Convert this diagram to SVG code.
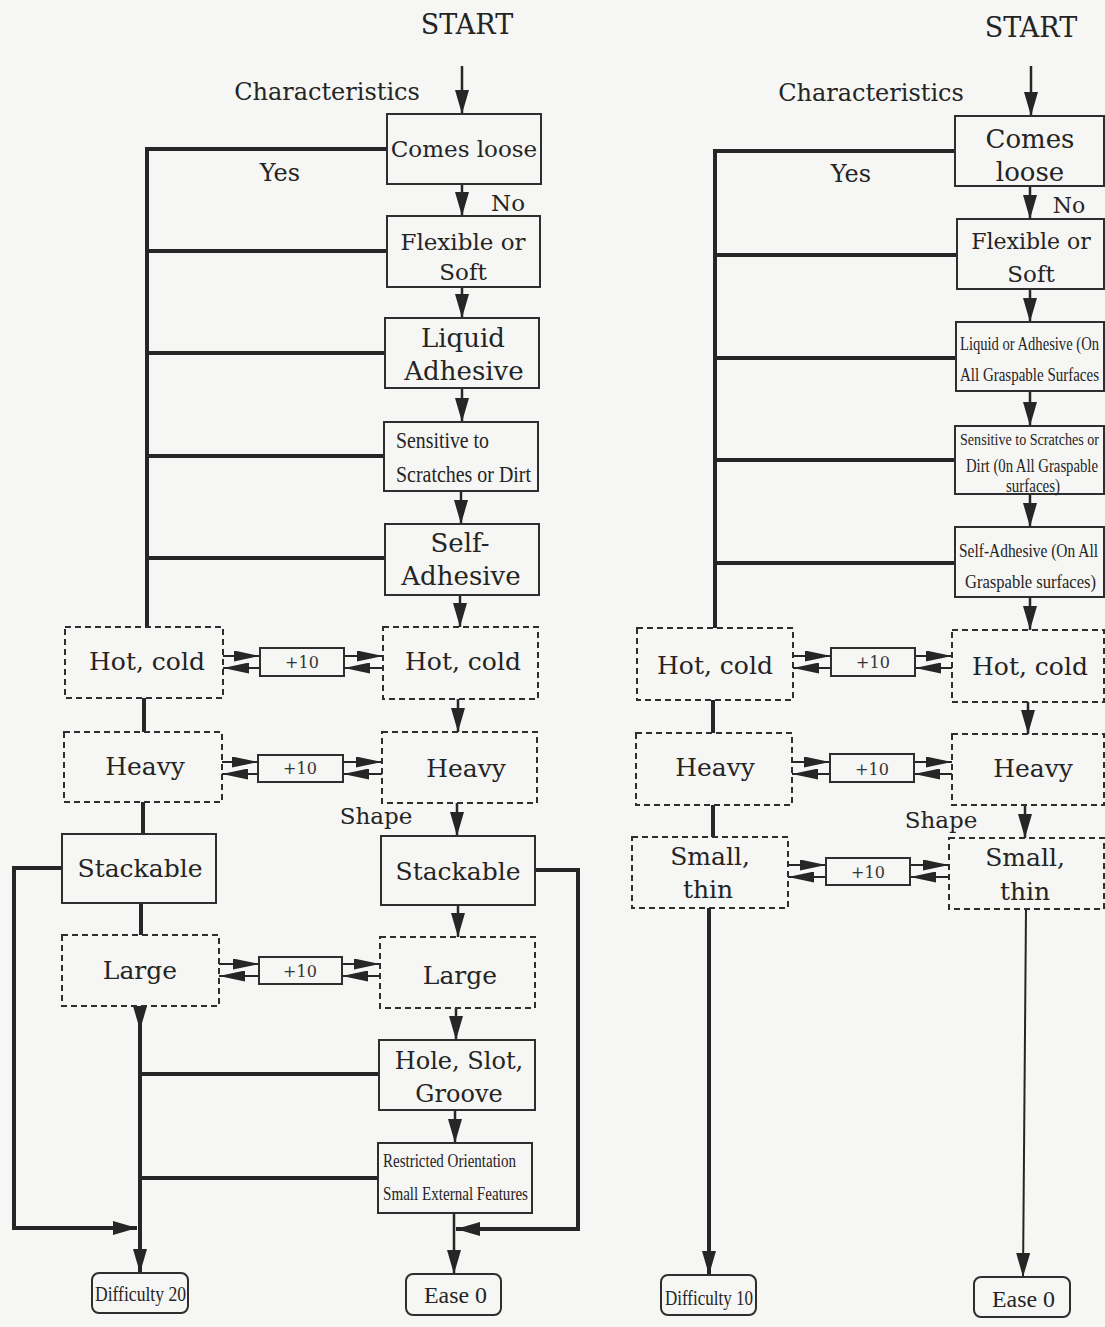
<svg xmlns="http://www.w3.org/2000/svg" width="1105" height="1327" viewBox="0 0 1105 1327">
<defs>
<marker id="ah" markerUnits="userSpaceOnUse" viewBox="0 0 24 14" markerWidth="24" markerHeight="14" refX="24" refY="7" orient="auto"><path d="M0,0 L24,7 L0,14 z" fill="#262626"/></marker>
<marker id="ah2" markerUnits="userSpaceOnUse" viewBox="0 0 26 11" markerWidth="26" markerHeight="11" refX="26" refY="5.5" orient="auto"><path d="M0,0 L26,5.5 L0,11 z" fill="#262626"/></marker>
</defs>
<style>
.box{fill:none;stroke:#2e2e2e;stroke-width:2}
.dash{fill:none;stroke:#2e2e2e;stroke-width:2;stroke-dasharray:6 4}
.t{font-family:"DejaVu Serif","Liberation Serif",serif;fill:#242424;text-anchor:middle}
.c{font-family:"Liberation Serif","DejaVu Serif",serif;fill:#242424}
.thick{fill:none;stroke:#262626;stroke-width:4}
.arr{fill:none;stroke:#262626;stroke-width:2.5;marker-end:url(#ah)}
.thickarr{fill:none;stroke:#262626;stroke-width:4;marker-end:url(#ah)}
.dbl{fill:none;stroke:#262626;stroke-width:2;marker-end:url(#ah2)}
.p10{font-family:"DejaVu Serif",serif;fill:#333;text-anchor:middle;font-size:16px}
</style>
<rect width="1105" height="1327" fill="#f6f6f4"/>

<g id="labels">
<text class="t" x="467" y="34" font-size="27">START</text>
<text class="t" x="327" y="100" font-size="24">Characteristics</text>
<text class="t" x="280" y="181" font-size="24">Yes</text>
<text class="t" x="508" y="211" font-size="23">No</text>
<text class="t" x="376" y="824" font-size="23">Shape</text>
<text class="t" x="1031" y="37" font-size="27">START</text>
<text class="t" x="871" y="101" font-size="24">Characteristics</text>
<text class="t" x="851" y="182" font-size="24">Yes</text>
<text class="t" x="1069" y="213" font-size="22" text-anchor="start">No</text>
<text class="t" x="941" y="828" font-size="23">Shape</text>
</g>

<g id="connectors">
<line class="arr" x1="462" y1="66" x2="462" y2="114"/>
<line class="arr" x1="462" y1="184" x2="462" y2="216"/>
<line class="arr" x1="462" y1="287" x2="462" y2="318"/>
<line class="arr" x1="462" y1="388" x2="462" y2="422"/>
<line class="arr" x1="461" y1="491" x2="461" y2="524"/>
<line class="arr" x1="460" y1="595" x2="460" y2="627"/>
<line class="arr" x1="458" y1="699" x2="458" y2="732"/>
<line class="arr" x1="457" y1="803" x2="457" y2="836"/>
<line class="arr" x1="458" y1="905" x2="458" y2="937"/>
<line class="arr" x1="456" y1="1008" x2="456" y2="1040"/>
<line class="arr" x1="455" y1="1110" x2="455" y2="1143"/>
<line class="arr" x1="454" y1="1213" x2="454" y2="1274"/>
<path class="thick" d="M387,149 H147 V627 M387,251 H147 M385,353 H147 M384,456 H147 M385,558 H147"/>
<path class="thick" d="M144,698 V732 M143,802 V834 M141,903 V935"/>
<path class="thickarr" d="M140,1006 V1030"/>
<path class="thickarr" d="M140,1028 V1273"/>
<path class="thick" d="M379,1074 H140 M378,1178 H140"/>
<path class="thickarr" d="M62,868 H14 V1228 H137"/>
<path class="thickarr" d="M535,870 H578 V1229 H456"/>
<line class="dbl" x1="223" y1="656" x2="260" y2="656"/>
<line class="dbl" x1="260" y1="668" x2="223" y2="668"/>
<line class="dbl" x1="344" y1="656" x2="383" y2="656"/>
<line class="dbl" x1="383" y1="668" x2="344" y2="668"/>
<line class="dbl" x1="222" y1="762" x2="258" y2="762"/>
<line class="dbl" x1="258" y1="774" x2="222" y2="774"/>
<line class="dbl" x1="343" y1="762" x2="382" y2="762"/>
<line class="dbl" x1="382" y1="774" x2="343" y2="774"/>
<line class="dbl" x1="219" y1="964" x2="259" y2="964"/>
<line class="dbl" x1="259" y1="976" x2="219" y2="976"/>
<line class="dbl" x1="342" y1="964" x2="380" y2="964"/>
<line class="dbl" x1="380" y1="976" x2="342" y2="976"/>

<line class="arr" x1="1031" y1="66" x2="1031" y2="116"/>
<line class="arr" x1="1030" y1="186" x2="1030" y2="219"/>
<line class="arr" x1="1030" y1="289" x2="1030" y2="322"/>
<line class="arr" x1="1030" y1="391" x2="1030" y2="426"/>
<line class="arr" x1="1030" y1="494" x2="1030" y2="527"/>
<line class="arr" x1="1030" y1="597" x2="1030" y2="630"/>
<line class="arr" x1="1028" y1="702" x2="1028" y2="734"/>
<line class="arr" x1="1025" y1="805" x2="1025" y2="838"/>
<path class="thick" d="M955,151 H715 V628 M957,255 H715 M956,358 H715 M955,460 H715 M955,563 H715"/>
<path class="thick" d="M713,700 V733 M713,805 V837"/>
<path class="thickarr" d="M709,908 V1275"/>
<path class="arr" style="stroke-width:2" d="M1026,909 L1023,1277"/>
<line class="dbl" x1="793" y1="656" x2="831" y2="656"/>
<line class="dbl" x1="831" y1="668" x2="793" y2="668"/>
<line class="dbl" x1="915" y1="656" x2="952" y2="656"/>
<line class="dbl" x1="952" y1="668" x2="915" y2="668"/>
<line class="dbl" x1="792" y1="762" x2="830" y2="762"/>
<line class="dbl" x1="830" y1="774" x2="792" y2="774"/>
<line class="dbl" x1="914" y1="762" x2="952" y2="762"/>
<line class="dbl" x1="952" y1="774" x2="914" y2="774"/>
<line class="dbl" x1="788" y1="865" x2="826" y2="865"/>
<line class="dbl" x1="826" y1="877" x2="788" y2="877"/>
<line class="dbl" x1="910" y1="865" x2="949" y2="865"/>
<line class="dbl" x1="949" y1="877" x2="910" y2="877"/>
</g>

<g id="L-comes-loose"><rect class="box" x="387" y="114" width="154" height="70"/><text class="t" x="464" y="157" font-size="23">Comes loose</text></g>
<g id="L-flexible"><rect class="box" x="387" y="216" width="153" height="71"/><text class="t" x="463" y="250" font-size="23">Flexible or</text><text class="t" x="463" y="280" font-size="23">Soft</text></g>
<g id="L-liquid"><rect class="box" x="385" y="318" width="154" height="70"/><text class="t" x="463" y="347" font-size="26">Liquid</text><text class="t" x="464" y="380" font-size="26">Adhesive</text></g>
<g id="L-sensitive"><rect class="box" x="384" y="422" width="154" height="69"/><text class="c" x="396" y="448" font-size="23" textLength="93" lengthAdjust="spacingAndGlyphs">Sensitive to</text><text class="c" x="396" y="482" font-size="23" textLength="135" lengthAdjust="spacingAndGlyphs">Scratches or Dirt</text></g>
<g id="L-self-adhesive"><rect class="box" x="385" y="524" width="154" height="71"/><text class="t" x="460" y="552" font-size="26">Self-</text><text class="t" x="461" y="585" font-size="26">Adhesive</text></g>
<g id="L-hot-cold-a"><rect class="dash" x="65" y="627" width="158" height="71"/><text class="t" x="147" y="670" font-size="25">Hot, cold</text></g>
<g id="L-plus10-a"><rect class="box" x="260" y="648" width="84" height="28"/><text class="p10" x="302" y="668">+10</text></g>
<g id="L-hot-cold-b"><rect class="dash" x="383" y="627" width="155" height="72"/><text class="t" x="463" y="670" font-size="25">Hot, cold</text></g>
<g id="L-heavy-a"><rect class="dash" x="64" y="732" width="158" height="70"/><text class="t" x="145" y="775" font-size="25">Heavy</text></g>
<g id="L-plus10-b"><rect class="box" x="258" y="755" width="85" height="27"/><text class="p10" x="300" y="774">+10</text></g>
<g id="L-heavy-b"><rect class="dash" x="382" y="732" width="155" height="71"/><text class="t" x="466" y="777" font-size="25">Heavy</text></g>
<g id="L-stackable-a"><rect class="box" x="62" y="834" width="154" height="69"/><text class="t" x="140" y="877" font-size="25">Stackable</text></g>
<g id="L-stackable-b"><rect class="box" x="381" y="836" width="154" height="69"/><text class="t" x="458" y="880" font-size="25">Stackable</text></g>
<g id="L-large-a"><rect class="dash" x="62" y="935" width="157" height="71"/><text class="t" x="140" y="979" font-size="25">Large</text></g>
<g id="L-plus10-c"><rect class="box" x="259" y="957" width="83" height="27"/><text class="p10" x="300" y="977">+10</text></g>
<g id="L-large-b"><rect class="dash" x="380" y="937" width="155" height="71"/><text class="t" x="460" y="984" font-size="25">Large</text></g>
<g id="L-hole"><rect class="box" x="379" y="1040" width="156" height="70"/><text class="t" x="459" y="1069" font-size="24">Hole, Slot,</text><text class="t" x="459" y="1102" font-size="24">Groove</text></g>
<g id="L-restricted"><rect class="box" x="378" y="1143" width="154" height="70"/><text class="c" x="383" y="1167" font-size="19" textLength="133" lengthAdjust="spacingAndGlyphs">Restricted Orientation</text><text class="c" x="383" y="1200" font-size="19" textLength="145" lengthAdjust="spacingAndGlyphs">Small External Features</text></g>
<g id="L-difficulty"><rect class="box" x="92" y="1273" width="96" height="40" rx="7"/><text class="c" x="95" y="1301" font-size="22" textLength="91" lengthAdjust="spacingAndGlyphs">Difficulty 20</text></g>
<g id="L-ease"><rect class="box" x="406" y="1274" width="95" height="41" rx="7"/><text class="c" x="424" y="1303" font-size="23" textLength="63" lengthAdjust="spacingAndGlyphs">Ease 0</text></g>

<g id="R-comes-loose"><rect class="box" x="955" y="116" width="149" height="70"/><text class="t" x="1030" y="148" font-size="26">Comes</text><text class="t" x="1030" y="181" font-size="26">loose</text></g>
<g id="R-flexible"><rect class="box" x="957" y="219" width="147" height="70"/><text class="t" x="1031" y="249" font-size="22">Flexible or</text><text class="t" x="1031" y="282" font-size="23">Soft</text></g>
<g id="R-liquid"><rect class="box" x="956" y="322" width="148" height="69"/>
<text class="c" transform="translate(960,350) scale(0.8,1)" font-size="18" textLength="173.7" lengthAdjust="spacingAndGlyphs">Liquid or Adhesive (On</text>
<text class="c" transform="translate(960,381) scale(0.82,1)" font-size="18" textLength="169.5" lengthAdjust="spacingAndGlyphs">All Graspable Surfaces</text></g>
<g id="R-sensitive"><rect class="box" x="955" y="426" width="149" height="68"/>
<text class="c" transform="translate(960,445) scale(0.86,1)" font-size="17" textLength="161.6" lengthAdjust="spacingAndGlyphs">Sensitive to Scratches or</text>
<text class="c" transform="translate(966,472) scale(0.77,1)" font-size="18" textLength="171.4" lengthAdjust="spacingAndGlyphs">Dirt (0n All Graspable</text>
<text class="c" transform="translate(1006,492) scale(0.83,1)" font-size="18" textLength="65" lengthAdjust="spacingAndGlyphs">surfaces)</text></g>
<g id="R-self-adhesive"><rect class="box" x="955" y="527" width="149" height="70"/>
<text class="c" transform="translate(959,557) scale(0.78,1)" font-size="19" textLength="178.2" lengthAdjust="spacingAndGlyphs">Self-Adhesive (On All</text>
<text class="c" transform="translate(965,588) scale(0.87,1)" font-size="19" textLength="150.6" lengthAdjust="spacingAndGlyphs">Graspable surfaces)</text></g>
<g id="R-hot-cold-a"><rect class="dash" x="637" y="628" width="156" height="72"/><text class="t" x="715" y="674" font-size="25">Hot, cold</text></g>
<g id="R-plus10-a"><rect class="box" x="831" y="648" width="84" height="28"/><text class="p10" x="873" y="668">+10</text></g>
<g id="R-hot-cold-b"><rect class="dash" x="952" y="630" width="152" height="72"/><text class="t" x="1030" y="675" font-size="25">Hot, cold</text></g>
<g id="R-heavy-a"><rect class="dash" x="636" y="733" width="156" height="72"/><text class="t" x="715" y="776" font-size="25">Heavy</text></g>
<g id="R-plus10-b"><rect class="box" x="830" y="754" width="84" height="28"/><text class="p10" x="872" y="775">+10</text></g>
<g id="R-heavy-b"><rect class="dash" x="952" y="734" width="152" height="71"/><text class="t" x="1033" y="777" font-size="25">Heavy</text></g>
<g id="R-small-thin-a"><rect class="dash" x="632" y="837" width="156" height="71"/><text class="t" x="710" y="865" font-size="25">Small,</text><text class="t" x="708" y="898" font-size="25">thin</text></g>
<g id="R-plus10-c"><rect class="box" x="826" y="858" width="84" height="27"/><text class="p10" x="868" y="878">+10</text></g>
<g id="R-small-thin-b"><rect class="dash" x="949" y="838" width="155" height="71"/><text class="t" x="1025" y="866" font-size="25">Small,</text><text class="t" x="1025" y="900" font-size="25">thin</text></g>
<g id="R-difficulty"><rect class="box" x="661" y="1275" width="95" height="40" rx="7"/><text class="c" x="665" y="1305" font-size="22" textLength="88" lengthAdjust="spacingAndGlyphs">Difficulty 10</text></g>
<g id="R-ease"><rect class="box" x="974" y="1277" width="96" height="40" rx="7"/><text class="c" x="992" y="1307" font-size="23" textLength="63" lengthAdjust="spacingAndGlyphs">Ease 0</text></g>
</svg>
